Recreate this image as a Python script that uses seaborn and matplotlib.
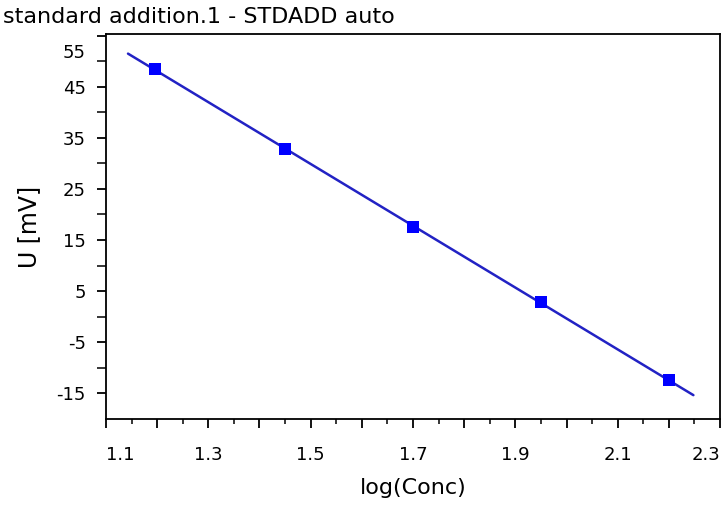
import numpy as np
import pandas as pd
import matplotlib
matplotlib.use("Agg")
import matplotlib.pyplot as plt
import matplotlib.transforms as mtransforms
import seaborn as sns
from matplotlib.ticker import FixedLocator

# data
log_conc = [1.196, 1.45, 1.70, 1.95, 2.20]
u_mv = [48.4, 32.8, 17.6, 2.8, -12.4]
line_range = [1.143, 2.248]
x_tick_values = [1.1, 1.2, 1.3, 1.4, 1.5, 1.6, 1.7, 1.8, 1.9, 2.0, 2.1, 2.2, 2.3]
x_tick_labels = ["1.1", "", "1.3", "", "1.5", "", "1.7", "", "1.9", "", "2.1", "", "2.3"]
y_tick_values = [-15, -5, 5, 15, 25, 35, 45, 55]

df = pd.DataFrame({"log(Conc)": log_conc, "U [mV]": u_mv})
slope, intercept = np.polyfit(log_conc, u_mv, 1)
fit = pd.DataFrame({"x": line_range, "y": [slope * v + intercept for v in line_range]})

sns.set_style("ticks")
plt.rcParams["font.family"] = ["DejaVu Sans"]
plt.rcParams["text.color"] = "black"
plt.rcParams["axes.labelcolor"] = "black"

fig = plt.figure(figsize=(7.24, 5.05), dpi=100)
ax = fig.add_axes([106 / 724, 86 / 505, 614 / 724, 385 / 505])

sns.lineplot(data=fit, x="x", y="y", ax=ax, color="#2222c4", linewidth=1.8)
sns.scatterplot(data=df, x="log(Conc)", y="U [mV]", ax=ax, marker="s", s=80,
                color="#0000ff", edgecolor="#0000ff", linewidth=0, zorder=3)

ax.set_xlim(1.1, 2.3)
ax.set_ylim(-20, 55.3)
ax.set_xticks(x_tick_values)
ax.set_xticklabels(x_tick_labels)
ax.xaxis.set_minor_locator(FixedLocator([v + 0.05 for v in x_tick_values[:-1]]))
ax.set_yticks(y_tick_values)
ax.set_yticklabels([str(v) for v in y_tick_values])
ax.yaxis.set_minor_locator(FixedLocator([-10, 0, 10, 20, 30, 40, 50]))

ax.tick_params(axis="x", which="major", length=6.5, width=1.3, pad=13, labelsize=13, colors="black")
ax.tick_params(axis="x", which="minor", length=3.5, width=1.3)
ax.tick_params(axis="y", which="major", length=6.5, width=1.3, pad=8, labelsize=13, colors="black")
ax.tick_params(axis="y", which="minor", length=6.5, width=1.3)

xl = ax.get_xticklabels()
xl[0].set_ha("left")
xl[-1].set_ha("right")
yl = ax.get_yticklabels()
yl[-1].set_transform(yl[-1].get_transform() +
                     mtransforms.ScaledTranslation(0, -0.15, fig.dpi_scale_trans))

for s in ax.spines.values():
    s.set_visible(True)
    s.set_color("black")
    s.set_linewidth(1.3)

ax.set_xlabel("log(Conc)", fontsize=16, labelpad=10, color="black")
ax.set_ylabel("U [mV]", fontsize=17, labelpad=11, color="black")

fig.text(3 / 724, 1 - 17 / 505, "standard addition.1 - STDADD auto", fontsize=16,
         ha="left", va="center", color="black")

fig.savefig("out.png", dpi=100)
